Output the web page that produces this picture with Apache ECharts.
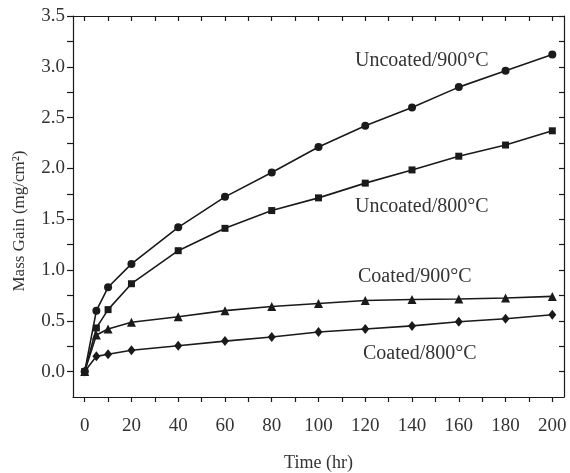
<!DOCTYPE html>
<html><head><meta charset="utf-8">
<script src="https://cdn.jsdelivr.net/npm/echarts@6/dist/echarts.min.js"></script>
<style>html,body{margin:0;padding:0;background:#fff}#c{width:570px;height:473px}</style>
</head><body><div id="c"></div>
<script>
const times = [0, 5, 10, 20, 40, 60, 80, 100, 120, 140, 160, 180, 200];
const uncoated900 = [0, 0.60, 0.83, 1.06, 1.42, 1.72, 1.96, 2.21, 2.42, 2.60, 2.80, 2.96, 3.12];
const uncoated800 = [0, 0.43, 0.61, 0.865, 1.19, 1.41, 1.585, 1.71, 1.855, 1.985, 2.12, 2.23, 2.37];
const coated900 = [0, 0.36, 0.42, 0.485, 0.54, 0.60, 0.64, 0.67, 0.70, 0.71, 0.715, 0.725, 0.74];
const coated800 = [0, 0.15, 0.17, 0.21, 0.255, 0.30, 0.34, 0.39, 0.42, 0.45, 0.49, 0.52, 0.56];
const xTickLabels = [0, 20, 40, 60, 80, 100, 120, 140, 160, 180, 200];
const xMinorTicks = [0, 10, 20, 30, 40, 50, 60, 70, 80, 90, 100, 110, 120, 130, 140, 150, 160, 170, 180, 190, 200];
const yTickLabels = [0, 0.5, 1.0, 1.5, 2.0, 2.5, 3.0, 3.5];
const yMinorTicks = [0, 0.25, 0.5, 0.75, 1.0, 1.25, 1.5, 1.75, 2.0, 2.25, 2.5, 2.75, 3.0, 3.25, 3.5];
const seriesNames = ['Uncoated/900°C', 'Uncoated/800°C', 'Coated/900°C', 'Coated/800°C'];

const font = 'Liberation Serif';
const ink = '#1a1a1a';
const txt = '#333';
const pair = arr => times.map((t, i) => [t, arr[i]]);

function mkSeries(name, arr, symbol, size) {
  return {
    name, type: 'line', data: pair(arr), symbol, symbolSize: size,
    lineStyle: { color: ink, width: 1.6 }, itemStyle: { color: ink },
    animation: false
  };
}

const chart = echarts.init(document.getElementById('c'));
chart.setOption({
  backgroundColor: '#fff',
  animation: false,
  grid: { left: 73, right: 6, top: 16, bottom: 76, containLabel: false, outerBoundsMode: 'none' },
  xAxis: [{
    type: 'value', min: -5, max: 205, position: 'bottom',
    axisLine: { show: true, onZero: false, lineStyle: { color: ink, width: 1.2 } },
    axisTick: { show: true, inside: false, length: 5, customValues: xMinorTicks, lineStyle: { color: ink, width: 1.2 } },
    axisLabel: { customValues: xTickLabels, color: txt, fontFamily: font, fontSize: 19, margin: 20 },
    splitLine: { show: false },
    name: 'Time (hr)', nameLocation: 'middle', nameGap: 57,
    nameTextStyle: { color: txt, fontFamily: font, fontSize: 18 }
  }, {
    type: 'value', min: -5, max: 205, position: 'top',
    axisLine: { show: true, onZero: false, lineStyle: { color: ink, width: 1.2 } },
    axisTick: { show: true, inside: true, length: 5, customValues: xMinorTicks, lineStyle: { color: ink, width: 1.2 } },
    axisLabel: { show: false }, splitLine: { show: false }
  }],
  yAxis: [{
    type: 'value', min: -0.25, max: 3.5, position: 'left',
    axisLine: { show: true, onZero: false, lineStyle: { color: ink, width: 1.2 } },
    axisTick: { show: true, inside: false, length: 6, customValues: yMinorTicks, lineStyle: { color: ink, width: 1.2 } },
    axisLabel: { customValues: yTickLabels, color: txt, fontFamily: font, fontSize: 19, margin: 8,
      formatter: v => v.toFixed(1) },
    splitLine: { show: false }
  }, {
    type: 'value', min: -0.25, max: 3.5, position: 'right',
    axisLine: { show: true, onZero: false, lineStyle: { color: ink, width: 1.2 } },
    axisTick: { show: true, inside: true, length: 5, customValues: yMinorTicks, lineStyle: { color: ink, width: 1.2 } },
    axisLabel: { show: false }, splitLine: { show: false }
  }],
  series: [
    mkSeries(seriesNames[0], uncoated900, 'circle', 8),
    mkSeries(seriesNames[1], uncoated800, 'rect', 7),
    mkSeries(seriesNames[2], coated900, 'triangle', 9),
    mkSeries(seriesNames[3], coated800, 'diamond', [8, 10])
  ],
  graphic: [
    { type: 'text', x: 20, y: 221, rotation: Math.PI / 2,
      style: { text: 'Mass Gain (mg/cm²)', fontFamily: font, fontSize: 17, fill: txt, align: 'center', verticalAlign: 'middle' } },
    { type: 'text', left: 355, top: 51, style: { text: seriesNames[0], fontFamily: font, fontSize: 20, fill: txt } },
    { type: 'text', left: 355, top: 197, style: { text: seriesNames[1], fontFamily: font, fontSize: 20, fill: txt } },
    { type: 'text', left: 358, top: 267, style: { text: seriesNames[2], fontFamily: font, fontSize: 20, fill: txt } },
    { type: 'text', left: 363, top: 344, style: { text: seriesNames[3], fontFamily: font, fontSize: 20, fill: txt } }
  ]
});
</script></body></html>
